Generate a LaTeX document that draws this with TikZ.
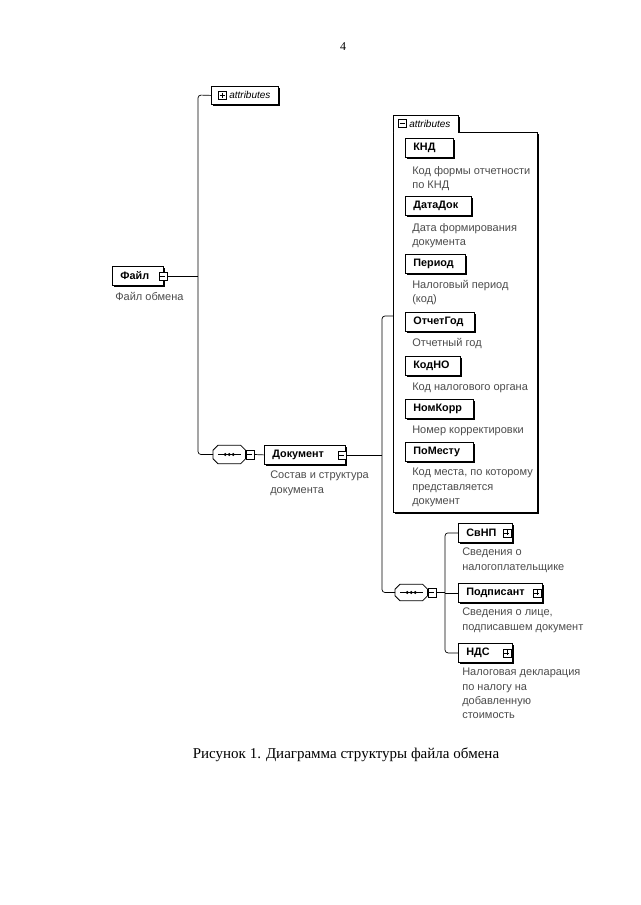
\documentclass[tikz,border=0pt]{standalone}
\usepackage{fontspec}
\setmainfont{Liberation Serif}
\newfontfamily\dia{Liberation Sans}
\usetikzlibrary{calc,shadows}
\newcommand\seqshape[1]{%
  \draw[line width=0.8pt, fill=white] ($(#1.north west)+(5,0)$) -- ($(#1.north east)+(-5,0)$) -- ($(#1.north east)+(0,5)$) -- ($(#1.south east)+(0,-5)$) -- ($(#1.south east)+(-5,0)$) -- ($(#1.south west)+(5,0)$) -- ($(#1.south west)+(0,-5)$) -- ($(#1.north west)+(0,5)$) -- cycle;
  \draw[line width=1pt] ($(#1.west)+(5,0)$) -- ($(#1.east)+(-5,0)$);
  \fill ($(#1.center)+(-4,0)$) circle (1.6) (#1.center) circle (1.6) ($(#1.center)+(4,0)$) circle (1.6);}
\begin{document}
\begin{tikzpicture}[x=1pt,y=-1pt,line width=0.6pt,
  elem/.style={draw, line width=0.8pt, fill=white,
    drop shadow={shadow xshift=1.2pt, shadow yshift=-1.2pt, fill=black, opacity=1},
    anchor=north west, minimum height=19pt, inner xsep=8pt, inner ysep=0pt, align=left,
    font=\dia\bfseries\fontsize{10.8}{12}\selectfont},
  desc/.style={anchor=north west, inner sep=0pt, align=left, text=black!70,
    font=\dia\fontsize{11}{14.3}\selectfont},
  iconbase/.style={draw, line width=0.6pt, fill=white, minimum size=8pt, inner sep=0pt},
  minusicon/.style={iconbase, path picture={\draw[line width=0.6pt] ([xshift=1.5pt]path picture bounding box.west) -- ([xshift=-1.5pt]path picture bounding box.east);}},
  plusicon/.style={iconbase, path picture={\draw[line width=0.6pt] ([xshift=1.5pt]path picture bounding box.west) -- ([xshift=-1.5pt]path picture bounding box.east) ([yshift=-1.5pt]path picture bounding box.north) -- ([yshift=1.5pt]path picture bounding box.south);}},
  tabbox/.style={draw, line width=0.8pt, fill=white,
    drop shadow={shadow xshift=1.2pt, shadow yshift=-1.2pt, fill=black, opacity=1},
    anchor=north west, inner sep=0pt},
  attrtext/.style={anchor=west, inner sep=0pt, font=\dia\itshape\fontsize{10}{11}\selectfont},
  seqbox/.style={anchor=west, minimum width=32pt, minimum height=18pt, inner sep=0pt},
  conn/.style={line width=0.7pt}
]
\useasboundingbox (0,0) rectangle (640,905);

% page number and caption
\node[font=\fontsize{12}{14}\selectfont] (pnum) at (343,47) {4};
\node[font=\fontsize{15}{17}\selectfont] (cap) at (346,755) {Рисунок 1. Диаграмма структуры файла обмена};

% top attributes (collapsed)
\node[tabbox, minimum width=67pt, minimum height=18pt] (attrA) at (211,86) {};
\node[plusicon] (attrAi) at (222,95) {};
\node[attrtext] (attrAt) at (229,95) {attributes};

% Файл
\node[elem, text width=35pt] (file) at (112,266) {Файл};
\node[minusicon] (fileI) at ($(file.east)+(-1,0)$) {};
\node[desc] (fileD) at (115,292) {Файл обмена};

% sequence 1
\node[seqbox] (hex1) at (213,454.5) {};
\seqshape{hex1}
\node[minusicon, anchor=west, minimum height=9pt] (hex1i) at (hex1.east) {};

% Документ
\node[elem, text width=65pt] (doc) at (264,445) {Документ};
\node[minusicon] (docI) at ($(doc.east)+(-4,0)$) {};
\node[desc] (docD) at (270,471) {Состав и структура\\документа};

% big attributes box
\node[tabbox, minimum width=65pt, minimum height=17pt] (attrBtab) at (393,115) {};
\node[draw, line width=0.8pt, fill=white,
    drop shadow={shadow xshift=1.2pt, shadow yshift=-1.2pt, fill=black, opacity=1},
    anchor=north west, inner sep=0pt, minimum width=144pt, minimum height=380pt] (attrB) at (393,132) {};
\draw[white, line width=1.2pt] ($(attrBtab.south west)+(0.6,0)$) -- ($(attrBtab.south east)+(-0.6,0)$);
\node[minusicon] (attrBi) at (402,123.5) {};
\node[attrtext] (attrBt) at (409,123.5) {attributes};

\node[elem, text width=32pt] (knd) at (405,138) {КНД};
\node[desc] (kndD) at (412,166) {Код формы отчетности\\по КНД};
\node[elem, text width=50pt] (data) at (405,196) {ДатаДок};
\node[desc] (dataD) at (412,223) {Дата формирования\\документа};
\node[elem, text width=44pt] (per) at (405,254) {Период};
\node[desc] (perD) at (412,280) {Налоговый период\\(код)};
\node[elem, text width=53pt] (god) at (405,312) {ОтчетГод};
\node[desc] (godD) at (412,338) {Отчетный год};
\node[elem, text width=39pt] (kodno) at (405,356) {КодНО};
\node[desc] (kodnoD) at (412,383) {Код налогового органа};
\node[elem, text width=52pt] (nom) at (405,399) {НомКорр};
\node[desc] (nomD) at (412,426) {Номер корректировки};
\node[elem, text width=52pt] (mesto) at (405,442) {ПоМесту};
\node[desc] (mestoD) at (412,468) {Код места, по которому\\представляется\\документ};

% sequence 2
\node[seqbox, minimum height=16pt] (hex2) at (395,592.5) {};
\seqshape{hex2}
\node[minusicon, anchor=west, minimum height=9pt] (hex2i) at (hex2.east) {};

\node[elem, text width=38pt] (svnp) at (458,523) {СвНП};
\node[plusicon] (svnpI) at ($(svnp.east)+(-6,0)$) {};
\node[desc] (svnpD) at (462,548) {Сведения о\\налогоплательщике};
\node[elem, text width=68pt] (podp) at (458,583) {Подписант};
\node[plusicon] (podpI) at ($(podp.east)+(-6,0)$) {};
\node[desc] (podpD) at (462,608) {Сведения о лице,\\подписавшем документ};
\node[elem, text width=38pt] (nds) at (458,643) {НДС};
\node[plusicon] (ndsI) at ($(nds.east)+(-6,0)$) {};
\node[desc] (ndsD) at (462,668) {Налоговая декларация\\по налогу на\\добавленную\\стоимость};

% connectors
\coordinate (spA) at (198,95);
\coordinate (spC) at (382,316);
\coordinate (spD) at (445,533);
\draw[conn, rounded corners=3pt] (attrA.west) -- (spA) -- (spA |- hex1.west) -- (hex1.west);
\draw[conn] (fileI.east) -- (fileI.east -| spA);
\draw[conn] (hex1i.east) -- (doc.west);
\draw[conn] (docI.east) -- (docI.east -| spC);
\draw[conn, rounded corners=3pt] (spC -| attrB.west) -- (spC) -- (spC |- hex2.west) -- (hex2.west);
\draw[conn] (hex2i.east) -- (hex2i.east -| spD);
\draw[conn, rounded corners=3pt] (svnp.west) -- (svnp.west -| spD) -- (spD |- nds.west) -- (nds.west);
\draw[conn] (podp.west) -- (podp.west -| spD);
\end{tikzpicture}
\end{document}
